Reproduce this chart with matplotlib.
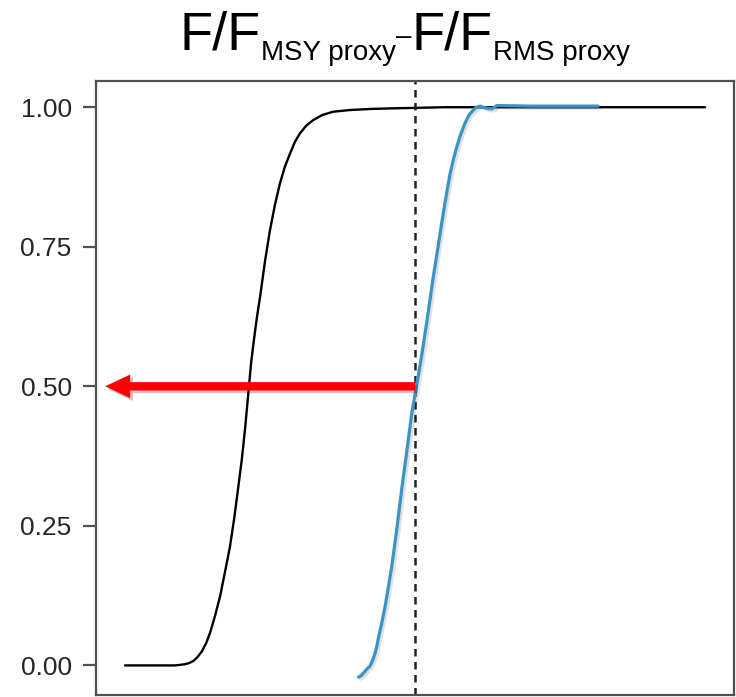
import matplotlib
matplotlib.use("Agg")
import matplotlib.pyplot as plt
import matplotlib.patheffects as pe
from matplotlib.patches import FancyArrowPatch

plt.rcParams['font.family'] = ['Liberation Sans', 'DejaVu Sans']

# curve values
black_x = [0.0, 0.172, 0.190, 0.205, 0.220, 0.236, 0.250, 0.265, 0.280, 0.293, 0.310,
           0.328, 0.345, 0.362, 0.377, 0.391, 0.403, 0.414, 0.425, 0.435, 0.445, 0.455,
           0.466, 0.483, 0.5, 0.517, 0.534, 0.551, 0.569, 0.586, 0.603, 0.625, 0.649,
           0.68, 0.718, 0.776, 0.85, 0.924, 1.1, 2.0]
black_y = [0.0, 0.0, 0.001, 0.002, 0.004, 0.008, 0.015, 0.025, 0.040, 0.058, 0.088,
           0.124, 0.168, 0.213, 0.265, 0.321, 0.370, 0.424, 0.486, 0.543, 0.585, 0.624,
           0.661, 0.725, 0.78, 0.825, 0.863, 0.893, 0.917, 0.938, 0.953, 0.967, 0.977,
           0.986, 0.992, 0.995, 0.997, 0.998, 1.0, 1.0]

blue_x = [0.805, 0.815, 0.825, 0.835, 0.845, 0.853, 0.860, 0.867, 0.873, 0.885, 0.897,
          0.908, 0.920, 0.937, 0.954, 0.971, 0.989, 1.006, 1.017, 1.028, 1.040, 1.052,
          1.063, 1.078, 1.092, 1.107, 1.121, 1.133, 1.144, 1.158, 1.172, 1.186, 1.201,
          1.212, 1.224, 1.236, 1.247, 1.265, 1.282, 1.4, 1.631]
blue_y = [-0.021, -0.018, -0.012, -0.006, -0.001, 0.008, 0.018, 0.031, 0.047, 0.075, 0.106,
          0.140, 0.178, 0.243, 0.315, 0.381, 0.452, 0.503, 0.536, 0.572, 0.613, 0.656,
          0.696, 0.745, 0.792, 0.840, 0.881, 0.908, 0.929, 0.952, 0.971, 0.986, 0.995,
          1.000, 1.002, 1.000, 0.998, 0.997, 1.003, 1.002, 1.002]

ref_x = 1.0          # dashed reference line
arrow_y = 0.5
arrow_from = 1.01
arrow_to = -0.078

yticks = [0.0, 0.25, 0.5, 0.75, 1.0]
ytick_labels = ['0.00', '0.25', '0.50', '0.75', '1.00']

# title pieces: text, size, baseline shift (px)
title_parts = [("F/F", 39, 0), ("MSY proxy", 20, -10), ("\u2013", 20, 6),
               ("F/F", 39, 0), ("RMS proxy", 20, -10)]

W, H = 736, 697
fig = plt.figure(figsize=(W / 100, H / 100), dpi=100)
ax = fig.add_axes([96 / W, 1 - 695 / H, (734 - 96) / W, (695 - 81) / H])

spine_col = '#505050'
ax.plot(black_x, black_y, color='black', lw=1.7, solid_capstyle='round', zorder=2)
ax.plot(blue_x, blue_y, color='#3a93c3', lw=2.3, solid_capstyle='round', zorder=3,
        path_effects=[pe.SimpleLineShadow(offset=(1.5, -1.5), alpha=0.12), pe.Normal()])
ax.axvline(ref_x, color='#222222', lw=1.8, linestyle=(0, (3.0, 2.2)), zorder=2)

arrow = FancyArrowPatch((arrow_from, arrow_y), (arrow_to, arrow_y),
                        arrowstyle='simple,head_length=1.8,head_width=1.7,tail_width=0.6',
                        mutation_scale=10, color='#ff0000', lw=0, zorder=4,
                        path_effects=[pe.withSimplePatchShadow(offset=(2, -2), alpha=0.25)])
ax.add_patch(arrow)

ax.set_xlim(-0.1, 2.1)
ax.set_ylim(-0.053, 1.047)
ax.set_xticks([])
ax.set_yticks(yticks)
ax.set_yticklabels(ytick_labels)
ax.tick_params(axis='y', length=9.5, width=1.6, color=spine_col, pad=8,
               labelsize=19, labelcolor='#262626')
for s in ax.spines.values():
    s.set_color(spine_col)
    s.set_linewidth(1.6)

# title built piece by piece so the subscripts sit low like the original
renderer = fig.canvas.get_renderer()
base_y = 50
texts = []
widths = []
for txt, size, shift in title_parts:
    t = fig.text(0, 1 - (base_y - shift) / H, txt, fontsize=size, ha='left',
                 va='baseline', color='black')
    widths.append(t.get_window_extent(renderer).width)
    texts.append(t)
total = sum(widths)
x = 405 - total / 2
for t, w in zip(texts, widths):
    t.set_x(x / W)
    x += w

fig.savefig('out.png', dpi=100)
